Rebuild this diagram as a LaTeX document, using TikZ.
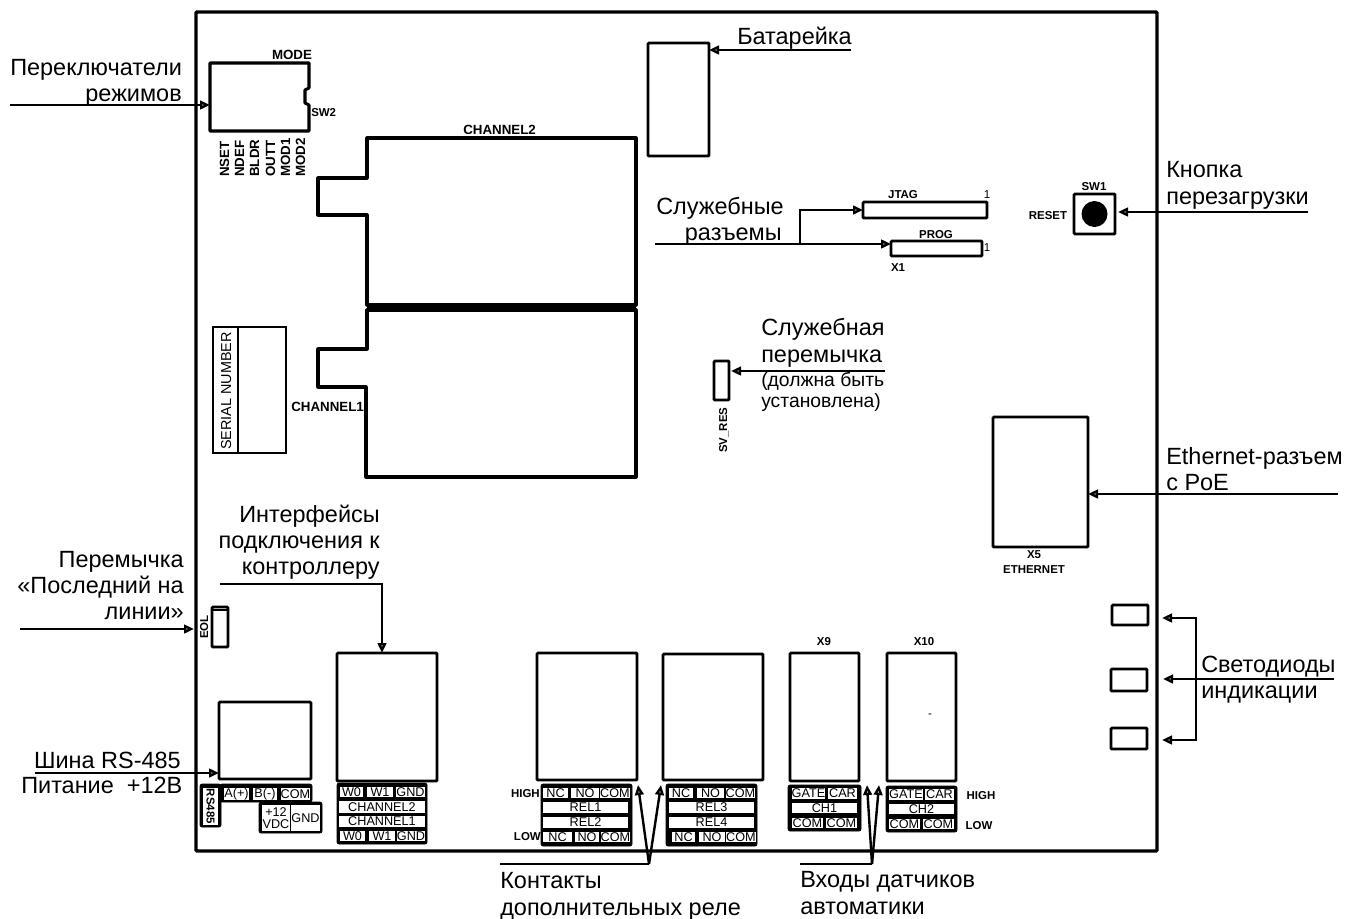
\documentclass[tikz,border=0pt]{standalone}
\usepackage{fontspec}
\setmainfont{Liberation Sans}
\usetikzlibrary{arrows.meta,calc}
\newcommand{\pxbox}[7][pcb]{%
  \pgfmathsetmacro{\pxw}{(#5-#3)*0.75}%
  \pgfmathsetmacro{\pxh}{(#6-#4)*0.75}%
  \node[#1,minimum width=\pxw pt,minimum height=\pxh pt] (#2) at ({(#3+#5)/2},{(#4+#6)/2}) {#7};}
\newcommand{\tcell}[6]{\pxbox[cellbox]{#1}{#2}{#3}{#4}{#5}{#6}}
\begin{document}
\begin{tikzpicture}[x=0.75pt,y=-0.75pt,
  pcb/.style={draw=black,line width=2.2pt,rounded corners=0.8pt,inner sep=0pt,outer sep=0pt,fill=white},
  block/.style={draw=black,fill=black,rounded corners=1.5pt,inner sep=0pt,outer sep=0pt,line width=0.5pt},
  cellbox/.style={fill=white,inner sep=0pt,outer sep=0pt,font=\fontsize{9.5}{10}\selectfont,align=center},
  wire/.style={line width=1.8pt},
  arr/.style={wire,-{Triangle[open,length=7.5pt,width=6.5pt,fill=white]}},
  big/.style={inner sep=0pt,font=\fontsize{17.6}{20}\selectfont},
  mid/.style={inner sep=0pt,font=\fontsize{14.5}{16}\selectfont},
  lab/.style={inner sep=0pt,font=\fontsize{10}{11}\selectfont\bfseries},
  labs/.style={inner sep=0pt,font=\fontsize{8.6}{10}\selectfont\bfseries,align=center},
  outline/.style={line width=2.3pt,line join=round}
]
\useasboundingbox (0,0) rectangle (1345,918);
% board
\pxbox[pcb,line width=2.6pt,fill=none]{board}{196}{12}{1157}{851}{}
% SW2
\draw[outline] (210,63) -- (309,63) -- (309,88) -- (305,90) -- (305,103) -- (309,105) -- (309,131) -- (210,131) -- cycle;
\coordinate (sw2w) at (210,105);
\node[lab,anchor=base] (tmode) at (292,59) {MODE};
\node[labs,anchor=base west] (tsw2) at (311,116) {SW2};
\foreach \nm/\tx/\xx in {n1/NSET/229,n2/NDEF/244,n3/BLDR/259,n4/OUTT/275,n5/MOD1/290,n6/MOD2/305}
  \node[lab,rotate=90,anchor=base west] (\nm) at (\xx,177) {\tx};
% channels
\draw[outline] (367,138) -- (636,138) -- (636,305) -- (367,305) -- (367,215) -- (318,215) -- (318,178) -- (367,178) -- cycle;
\draw[outline] (367,310) -- (636,310) -- (636,477) -- (366,477) -- (366,387) -- (318,387) -- (318,349) -- (367,349) -- cycle;
\fill (367,305) rectangle (636,310);
\node[lab,anchor=base west] (tch2) at (463,134) {CHANNEL2};
\node[lab,anchor=base west] (tch1) at (291,411) {CHANNEL1};
% serial
\draw[line width=1.4pt] (213,327) rectangle (286,453) (238,327) -- (238,453);
\node[inner sep=0pt,font=\fontsize{10.8}{12}\selectfont,rotate=90,anchor=base] (tser) at (231,391) {SERIAL NUMBER};
% battery
\pxbox{bat}{648}{43}{709}{156}{}
\coordinate (batc) at (851,50);
\draw[arr] (batc) -- (batc -| bat.east);
\node[big,anchor=base west] (tbat) at (737,44) {Батарейка};
% headers
\pxbox{jtag}{863}{202}{987}{218}{}
\pxbox{prog}{891}{241}{982}{256}{}
\node[labs,anchor=base] (tj) at (903,198) {JTAG};
\node[inner sep=0pt,font=\fontsize{8.6}{10}\selectfont,anchor=base] (tj1) at (987,198) {1};
\node[labs,anchor=base] (tp) at (936,238) {PROG};
\node[inner sep=0pt,font=\fontsize{8.6}{10}\selectfont,anchor=base] (tp1) at (987,251) {1};
\node[labs,anchor=base] (tx1) at (898,271) {X1};
\coordinate (srv) at (655,244);
\coordinate (srvb) at (800,244);
\draw[arr] (srv) -- (srv -| prog.west);
\draw[arr] (srvb) -- (srvb |- jtag.west) -- (jtag.west);
\node[big,anchor=base west] (ts1) at (656,214) {Служебные};
\node[big,anchor=base east] (ts2) at (782,240) {разъемы};
% reset
\pxbox{sw1}{1074}{194}{1115}{234}{}
\fill (1094.5,214) circle[radius=13];
\node[labs,anchor=base] (tsw1) at (1094,190) {SW1};
\node[labs,anchor=base] (trst) at (1048,219) {RESET};
\coordinate (rstc) at (1308,212);
\draw[arr] (rstc) -- ($(rstc -| sw1.east)+(3,0)$);
\node[big,anchor=base west] (tk1) at (1166,177) {Кнопка};
\node[big,anchor=base west] (tk2) at (1166,204) {перезагрузки};
% SV_RES
\pxbox{svr}{714}{361}{729}{400}{}
\coordinate (svc) at (885,371);
\draw[arr] (svc) -- ($(svc -| svr.east)+(2,0)$);
\node[big,anchor=base west] (tv1) at (761,335) {Служебная};
\node[big,anchor=base west] (tv2) at (761,362) {перемычка};
\node[mid,anchor=base west] (tv3) at (761,386) {(должна быть};
\node[mid,anchor=base west] (tv4) at (761,407) {установлена)};
\node[inner sep=0pt,font=\fontsize{8.6}{10}\selectfont\bfseries,rotate=90,anchor=base west] (tsv) at (727,453) {SV\_RES};
% ethernet
\pxbox{eth}{993}{417}{1088}{547}{}
\node[labs,anchor=base] (tx5) at (1034,558) {X5};
\node[labs,anchor=base] (tet) at (1034,573) {ETHERNET};
\coordinate (ethc) at (1338,494);
\draw[arr] (ethc) -- (ethc -| eth.east);
\node[big,anchor=base west] (te1) at (1166,464) {Ethernet-разъем};
\node[big,anchor=base west] (te2) at (1166,490) {с PoE};
% LEDs
\pxbox{led1}{1112}{605}{1148}{625}{}
\pxbox{led2}{1111}{669}{1147}{691}{}
\pxbox{led3}{1111}{728}{1147}{749}{}
\coordinate (ledc) at (1334,679);
\coordinate (ledt1) at (1162,618);
\coordinate (ledt2) at (1163,679);
\coordinate (ledt3) at (1162,740);
\coordinate (ledv) at (1196,679);
\draw[arr] (ledc) -- (ledt2);
\draw[arr] (ledv) -- (ledv |- ledt1) -- (ledt1);
\draw[arr] (ledv) -- (ledv |- ledt3) -- (ledt3);
\node[big,anchor=base west] (tl1) at (1201,672) {Светодиоды};
\node[big,anchor=base west] (tl2) at (1201,698) {индикации};
% mode text
\coordinate (modec) at (10,105);
\draw[arr] (modec) -- (sw2w);
\node[big,anchor=base west] (tm1) at (10,75) {Переключатели};
\node[big,anchor=base east] (tm2) at (182,101) {режимов};
% EOL
\pxbox{eol}{212}{607}{228}{647}{}
\draw[line width=1pt] (eol.north west)++(0,3) -- ++(16,0);
\node[labs,rotate=90,anchor=base] (teol) at (208,627) {EOL};
\coordinate (eolc) at (20,629);
\coordinate (eolt) at (194,629);
\draw[arr] (eolc) -- (eolt);
\node[big,anchor=base east] (te3) at (184,567) {Перемычка};
\node[big,anchor=base east] (te4) at (184,593) {«Последний на};
\node[big,anchor=base east] (te5) at (184,619) {линии»};
% terminal blocks left
\pxbox{rsb}{219}{702}{311}{779}{}
\pxbox{wb}{337}{653}{437}{781}{}
\coordinate (ifc) at (220,584);
\coordinate (ifk) at (382,584);
\draw[arr] (ifc) -- (ifk) -- (ifk |- wb.north);
\node[big,anchor=base east] (ti1) at (380,522) {Интерфейсы};
\node[big,anchor=base east] (ti2) at (380,548) {подключения к};
\node[big,anchor=base east] (ti3) at (380,574) {контроллеру};
\coordinate (rsc) at (35,773);
\draw[arr] (rsc) -- (rsc -| rsb.west);
\node[big,anchor=base east] (tr1) at (181,768) {Шина RS-485};
\node[big,anchor=base west] (tr2) at (21,793) {Питание\ \ +12В};
\pxbox[block]{b1}{200}{784}{221}{827}{}
\pxbox[block]{b2}{220}{784}{312}{802}{}
\pxbox[block]{b3}{259}{802}{322}{833}{}
\tcell{crs}{203}{788}{218}{825}{}
\node[inner sep=0pt,rotate=-90,font=\fontsize{8.6}{10}\selectfont\bfseries] (trs) at (210.5,806.5) {RS485};
\tcell{ca}{225}{788}{248}{800}{A(+)}
\tcell{cb}{253}{788}{277}{800}{B(-)}
\tcell{cc}{282}{788}{309}{800}{COM}
\tcell{cv}{262}{805}{290}{831}{+12\\[-1pt]VDC}
\tcell{cg}{292}{805}{319}{831}{GND}
\pxbox[block]{b4}{337}{783}{427}{844}{}
\tcell{w1}{340}{787}{363}{797}{W0}
\tcell{w2}{367}{787}{393}{797}{W1}
\tcell{w3}{397}{787}{424}{797}{GND}
\tcell{w4}{339}{801}{425}{813}{CHANNEL2}
\tcell{w5}{339}{816}{425}{827}{CHANNEL1}
\tcell{w6}{340}{831}{365}{841}{W0}
\tcell{w7}{369}{831}{395}{841}{W1}
\tcell{w8}{398}{831}{424}{841}{GND}
% relays
\pxbox{rel1}{537}{653}{637}{780}{}
\pxbox{rel2}{663}{654}{763}{780}{}
\pxbox[block]{b5}{541}{784}{632}{846}{}
\tcell{r1}{543}{788}{568}{798}{NC}
\tcell{r2}{571}{788}{599}{798}{NO}
\tcell{r3}{602}{788}{628}{798}{COM}
\tcell{r4}{543}{802}{628}{813}{REL1}
\tcell{r5}{543}{817}{628}{828}{REL2}
\tcell{r6}{543}{832}{572}{842}{NC}
\tcell{r7}{575}{832}{599}{842}{NO}
\tcell{r8}{603}{832}{628}{842}{COM}
\pxbox[block]{b6}{666}{784}{757}{846}{}
\tcell{q1}{669}{788}{693}{798}{NC}
\tcell{q2}{697}{788}{724}{798}{NO}
\tcell{q3}{727}{788}{754}{798}{COM}
\tcell{q4}{669}{802}{754}{813}{REL3}
\tcell{q5}{669}{817}{754}{828}{REL4}
\tcell{q6}{672}{832}{695}{842}{NC}
\tcell{q7}{699}{832}{725}{842}{NO}
\tcell{q8}{728}{832}{754}{842}{COM}
\node[labs,anchor=base east] (th1) at (540,797) {HIGH};
\node[labs,anchor=base east] (tl3) at (541,840) {LOW};
\coordinate (conc) at (500,864);
\coordinate (conk) at (649,864);
\coordinate (cont1) at (638,785);
\coordinate (cont2) at (661,785);
\draw[wire] (conc) -- (conk);
\draw[arr] (conk) -- (cont1);
\draw[arr] (conk) -- (cont2);
\node[big,anchor=base west] (tc1) at (500,888) {Контакты};
\node[big,anchor=base west] (tc2) at (500,915) {дополнительных реле};
% inputs
\pxbox{x9}{790}{653}{859}{781}{}
\pxbox{x10}{887}{653}{956}{781}{}
\node[labs,anchor=base] (tx9) at (824,645) {X9};
\node[labs,anchor=base] (tx10) at (924,645) {X10};
\node[inner sep=0pt,font=\fontsize{8.6}{10}\selectfont,anchor=base] (tdash) at (930,717) {-};
\pxbox[block]{b7}{788}{785}{861}{831}{}
\tcell{g1}{792}{788}{825}{799}{GATE}
\tcell{g2}{828}{788}{857}{799}{CAR}
\tcell{g3}{792}{803}{857}{813}{CH1}
\tcell{g4}{792}{818}{823}{828}{COM}
\tcell{g5}{826}{818}{857}{828}{COM}
\pxbox[block]{b8}{886}{786}{957}{832}{}
\tcell{h1}{890}{789}{922}{800}{GATE}
\tcell{h2}{925}{789}{954}{800}{CAR}
\tcell{h3}{889}{804}{954}{814}{CH2}
\tcell{h4}{889}{819}{920}{829}{COM}
\tcell{h5}{923}{819}{954}{829}{COM}
\node[labs,anchor=base] (th2) at (981,799) {HIGH};
\node[labs,anchor=base] (tl4) at (979,829) {LOW};
\coordinate (inc) at (800,864);
\coordinate (ink) at (872,864);
\coordinate (int1) at (867,785);
\coordinate (int2) at (879,785);
\draw[wire] (inc) -- (ink);
\draw[arr] (ink) -- (int1);
\draw[arr] (ink) -- (int2);
\node[big,anchor=base west] (tn1) at (800,887) {Входы датчиков};
\node[big,anchor=base west] (tn2) at (800,914) {автоматики};
\end{tikzpicture}
\end{document}
